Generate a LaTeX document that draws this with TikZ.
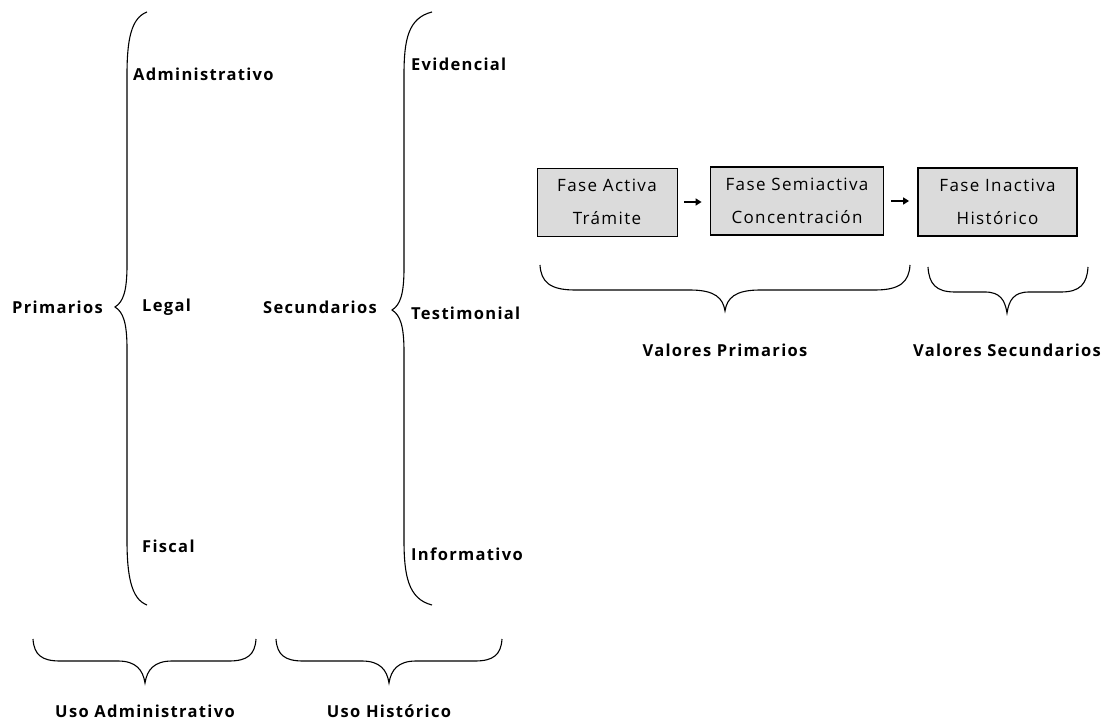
\documentclass[tikz,border=0pt]{standalone}
\usepackage{fontspec}
\setmainfont[LetterSpace=8]{Open Sans}
\newfontfamily\boxfont[LetterSpace=8]{Open Sans}
\usetikzlibrary{arrows.meta}
\tikzset{
  brace/.style={line width=1.1pt, black},
  lab/.style={font=\bfseries\fontsize{16.5}{18}\selectfont, inner sep=0pt, anchor=west},
  clab/.style={font=\bfseries\fontsize{16.5}{18}\selectfont, inner sep=0pt},
  fasebox/.style={draw, fill=gray!28, minimum width=#1, minimum height=68pt, inner sep=0pt, align=center, font=\boxfont\fontsize{17}{33}\selectfont},
  arr/.style={-{Triangle[length=6pt,width=7pt]}, line width=1.8pt, shorten <=7pt, shorten >=8pt}
}
\begin{document}
\begin{tikzpicture}[x=1pt,y=-1pt]
\useasboundingbox (0,0) rectangle (1101,719);
% left vertical braces
\draw[brace] (147,12) .. controls (131,18) and (127,40) .. (127,75) -- (127,265)
  .. controls (127,292) and (123,302) .. (115,307)
  .. controls (123,312) and (127,322) .. (127,349) -- (127,540)
  .. controls (127,575) and (131,599) .. (147,605);
\draw[brace] (432,12) .. controls (408,18) and (404,40) .. (404,75) -- (404,268)
  .. controls (404,295) and (400,305) .. (392,310)
  .. controls (400,315) and (404,325) .. (404,352) -- (404,540)
  .. controls (404,575) and (408,599) .. (432,605);
\node[lab] (prim) at (12,307) {Primarios};
\node[lab] (adm) at (133,74) {Administrativo};
\node[lab] (leg) at (142,307) {Legal};
\node[lab] (fis) at (142,546) {Fiscal};
\node[lab] (sec) at (263,307) {Secundarios};
\node[lab] (evi) at (411,64) {Evidencial};
\node[lab] (tes) at (411,313) {Testimonial};
\node[lab] (inf) at (411,554) {Informativo};
% bottom braces
\draw[brace] (33,639) .. controls (34,655) and (42,661) .. (60,661) -- (118,661)
  .. controls (136,661) and (143,670) .. (145,683)
  .. controls (147,670) and (154,661) .. (172,661) -- (229,661)
  .. controls (247,661) and (255,655) .. (256,639);
\draw[brace] (276,639) .. controls (277,655) and (285,661) .. (303,661) -- (362,661)
  .. controls (380,661) and (387,670) .. (389,683)
  .. controls (391,670) and (398,661) .. (416,661) -- (475,661)
  .. controls (493,661) and (501,655) .. (502,639);
\node[clab] (usoa) at (145,711) {Uso Administrativo};
\node[clab] (usoh) at (389,711) {Uso Histórico};
% boxes
\node[fasebox=140pt, line width=0.8pt] (b1) at (607,202) {Fase Activa\\Trámite};
\node[fasebox=173pt, line width=1.8pt] (b2) at (797,201) {Fase Semiactiva\\Concentración};
\node[fasebox=159pt, line width=1.8pt] (b3) at (997.5,202) {Fase Inactiva\\Histórico};
\draw[arr] (b1.east) -- (b1.east -| b2.west);
\draw[arr] (b2.east) -- (b2.east -| b3.west);
% braces under boxes
\draw[brace] (540,265) .. controls (541,282) and (550,290) .. (575,290) -- (690,290)
  .. controls (715,290) and (723,298) .. (725,311)
  .. controls (727,298) and (735,290) .. (760,290) -- (875,290)
  .. controls (900,290) and (909,282) .. (910,265);
\draw[brace] (928,267) .. controls (929,284) and (936,292) .. (955,292) -- (985,292)
  .. controls (1000,292) and (1005,300) .. (1007,313)
  .. controls (1009,300) and (1014,292) .. (1029,292) -- (1061,292)
  .. controls (1080,292) and (1087,284) .. (1088,267);
\node[clab] (vp) at (725,350) {Valores Primarios};
\node[clab] (vs) at (1007,350) {Valores Secundarios};
\end{tikzpicture}
\end{document}
